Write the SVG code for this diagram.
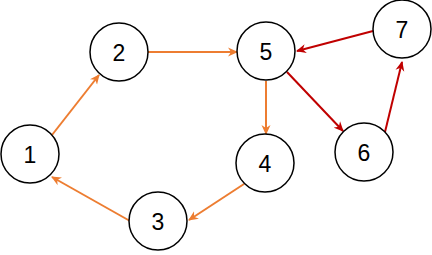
<svg xmlns="http://www.w3.org/2000/svg" width="432" height="255" viewBox="0 0 432 255">
<defs>
<style>
.node circle{fill:#fff;stroke:#000;stroke-width:1.5}
.node text{font-family:"Liberation Sans",Arial,sans-serif;font-size:23px;fill:#000;text-anchor:middle;dominant-baseline:central}
.o{stroke:#ED7D31;stroke-width:2;fill:none;marker-end:url(#ao)}
.r{stroke:#C00000;stroke-width:2;fill:none;marker-end:url(#ar)}
</style>
<marker id="ao" markerWidth="10" markerHeight="10" refX="9" refY="5" orient="auto" markerUnits="userSpaceOnUse">
<path d="M0,0.5 L10,5 L0,9.5 L3,5 z" fill="#ED7D31"/>
</marker>
<marker id="ar" markerWidth="10" markerHeight="10" refX="9" refY="5" orient="auto" markerUnits="userSpaceOnUse">
<path d="M0,0.5 L10,5 L0,9.5 L3,5 z" fill="#C00000"/>
</marker>
</defs>
<rect width="432" height="255" fill="#fff"/>
<g id="connectors">
<line class="o" x1="52" y1="135" x2="99" y2="75"/>
<line class="o" x1="148" y1="52" x2="237" y2="52"/>
<line class="o" x1="266" y1="81" x2="266" y2="134"/>
<line class="o" x1="244" y1="184" x2="189" y2="220"/>
<line class="o" x1="130" y1="221" x2="52" y2="177"/>
<line class="r" x1="287" y1="72" x2="343" y2="131"/>
<line class="r" x1="385" y1="132" x2="402" y2="62"/>
<line class="r" x1="373" y1="31" x2="297" y2="51"/>
</g>
<g id="n1" class="node"><circle cx="30" cy="154" r="29"/><text x="30" y="155">1</text></g>
<g id="n2" class="node"><circle cx="119" cy="52" r="29"/><text x="119" y="53">2</text></g>
<g id="n3" class="node"><circle cx="158" cy="221" r="29"/><text x="158" y="222">3</text></g>
<g id="n4" class="node"><circle cx="265" cy="163" r="29"/><text x="265" y="164">4</text></g>
<g id="n5" class="node"><circle cx="266" cy="51" r="29"/><text x="266" y="52">5</text></g>
<g id="n6" class="node"><circle cx="364" cy="152" r="29"/><text x="364" y="153">6</text></g>
<g id="n7" class="node"><circle cx="402" cy="29" r="29"/><text x="402" y="30">7</text></g>
</svg>
